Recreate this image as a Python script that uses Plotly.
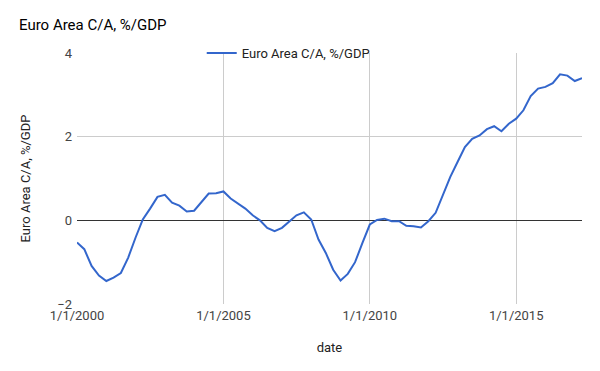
import plotly.graph_objects as go
import pandas as pd

dates = pd.date_range("2000-01-01", periods=70, freq="QS").strftime("%Y-%m-%d").tolist()
values = [
    -0.53, -0.69, -1.09, -1.32, -1.45, -1.37, -1.26, -0.89, -0.41, 0.02,
    0.28, 0.56, 0.61, 0.42, 0.35, 0.21, 0.23, 0.44, 0.64, 0.65,
    0.69, 0.52, 0.40, 0.28, 0.12, 0.00, -0.18, -0.26, -0.18, -0.02,
    0.12, 0.19, 0.02, -0.46, -0.78, -1.18, -1.44, -1.28, -1.00, -0.54,
    -0.10, 0.01, 0.04, -0.02, -0.02, -0.13, -0.14, -0.17, -0.02, 0.18,
    0.59, 1.04, 1.40, 1.75, 1.95, 2.03, 2.18, 2.25, 2.13, 2.31,
    2.43, 2.63, 2.97, 3.15, 3.19, 3.28, 3.49, 3.46, 3.33, 3.40,
]
series_name = "Euro Area C/A, %/GDP"
x_tick_vals = ["2000-01-01", "2005-01-01", "2010-01-01", "2015-01-01"]
x_tick_text = ["1/1/2000", "1/1/2005", "1/1/2010", "1/1/2015"]
y_tick_vals = [-2, 0, 2, 4]

# The page body keeps its default 8px margin, so the figure is sized to fit the window.
W, H = 584, 355

fig = go.Figure()
fig.add_trace(go.Scatter(
    x=dates, y=values, mode="lines", name=series_name,
    line=dict(color="#3366cc", width=2),
))

fig.update_layout(
    width=W, height=H,
    margin=dict(l=69, r=10, t=45, b=59, autoexpand=False),
    paper_bgcolor="white", plot_bgcolor="white",
    font=dict(family="Roboto, Arial, sans-serif", size=13, color="#222222"),
    title=dict(text="Euro Area C/A, %/GDP", x=11/W, xanchor="left", xref="container",
               y=1-17/H, yanchor="middle", yref="container",
               font=dict(size=15, color="#000000")),
    showlegend=True,
    legend=dict(orientation="h", x=0.247, xanchor="left", y=1.0, yanchor="middle",
                bgcolor="rgba(0,0,0,0)", font=dict(size=13, color="#222222"),
                itemwidth=30, tracegroupgap=0),
    xaxis=dict(
        type="date", range=[dates[0], dates[-1]],
        tickvals=x_tick_vals, ticktext=x_tick_text,
        showgrid=True, gridcolor="#cccccc", gridwidth=1,
        showline=False, zeroline=False, ticks="", automargin=False,
        ticklabelstandoff=2,
        tickfont=dict(size=13, color="#444444"),
        title=dict(text="date", font=dict(size=13, color="#222222"), standoff=20),
    ),
    yaxis=dict(
        range=[-2, 4], tickvals=y_tick_vals,
        showgrid=True, gridcolor="#cccccc", gridwidth=1,
        zeroline=True, zerolinecolor="#333333", zerolinewidth=1,
        showline=False, ticks="", automargin=False, ticklabelstandoff=4,
        tickfont=dict(size=13, color="#444444"),
        title=dict(text=series_name, font=dict(size=13, color="#222222"), standoff=23),
    ),
)

fig.write_html("out.html")
